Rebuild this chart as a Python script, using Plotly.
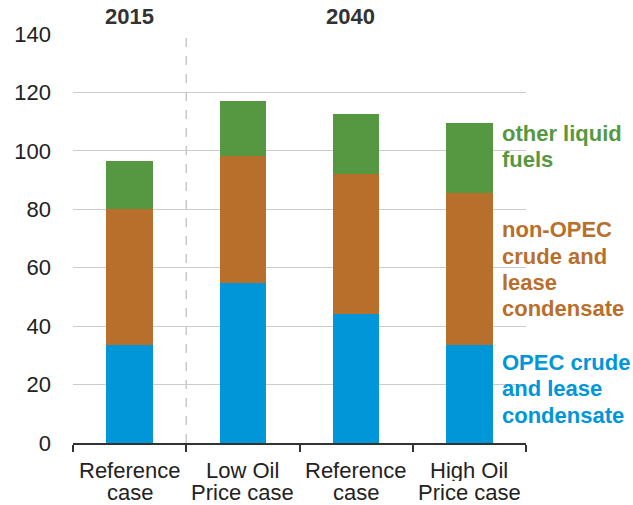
import plotly.graph_objects as go

categories = ["Reference case", "Low Oil Price case", "Reference case", "High Oil Price case"]
cat_line1 = ["Reference", "Low Oil", "Reference", "High Oil"]
cat_line2 = ["case", "Price case", "case", "Price case"]
opec = [33.7, 54.6, 44.1, 33.4]
non_opec = [46.5, 43.6, 48.1, 52.3]
other_liquids = [16.4, 18.9, 20.5, 24.0]
years = ["2015", "2040"]
year_pos = [0, 1.95]
series_names = ["OPEC crude and lease condensate", "non-OPEC crude and lease condensate", "other liquid fuels"]

BLUE = "#0096d7"
ORANGE = "#b96f2c"
GREEN = "#569842"
FONT = "Liberation Sans, Arial, sans-serif"

x = list(range(len(categories)))

fig = go.Figure()
for vals, col, name in [(opec, BLUE, series_names[0]), (non_opec, ORANGE, series_names[1]), (other_liquids, GREEN, series_names[2])]:
    fig.add_trace(go.Bar(x=x, y=vals, name=name, marker=dict(color=col, line=dict(width=0)), width=0.41))

PLOT_TOP = 34.3
PLOT_BOT = 442.7
H = PLOT_BOT - PLOT_TOP

def py(pix):
    return (PLOT_BOT - pix) / H

ann = []
# category labels
for i in x:
    ann.append(dict(x=i, y=py(478 - 8), xref="x", yref="paper", text=cat_line1[i], showarrow=False,
                    height=21, font=dict(size=22, color="#222", family=FONT), xanchor="center", yanchor="middle"))
    ann.append(dict(x=i, y=py(500 - 8), xref="x", yref="paper", text=cat_line2[i], showarrow=False,
                    height=21, font=dict(size=22, color="#222", family=FONT), xanchor="center", yanchor="middle"))
# year labels
for yr, xp in zip(years, year_pos):
    ann.append(dict(x=xp, y=py(25 - 8), xref="x", yref="paper", text="<b>%s</b>" % yr, showarrow=False,
                    font=dict(size=22, color="#333", family=FONT), xanchor="center", yanchor="middle"))
# series labels on right
labels = [
    (["other liquid", "fuels"], [141.7, 167.7], GREEN),
    (["non-OPEC", "crude and", "lease", "condensate"], [237.3, 264, 290.7, 316], ORANGE),
    (["OPEC crude", "and lease", "condensate"], [370, 396.7, 423], BLUE),
]
for lines, bases, col in labels:
    for t, b in zip(lines, bases):
        ann.append(dict(x=1.0, y=py(b - 8), xref="paper", yref="paper", xshift=-26, text="<b>%s</b>" % t,
                        showarrow=False, height=25, font=dict(size=22, color=col, family=FONT),
                        xanchor="left", yanchor="middle"))

fig.update_layout(
    barmode="stack",
    width=633, height=505,
    margin=dict(l=73, r=107, t=34, b=62),
    paper_bgcolor="white", plot_bgcolor="white",
    showlegend=False,
    annotations=ann,
    shapes=[dict(type="line", xref="x", yref="paper", x0=0.5, x1=0.5, y0=0, y1=1,
                 line=dict(color="#c8c8c8", width=1.5, dash="dash"), layer="below")],
    xaxis=dict(range=[-0.5, 3.5], tickvals=[-0.5, 0.5, 1.5, 2.5, 3.5], ticks="outside", ticklen=7,
               tickcolor="#333", tickwidth=1.5, showticklabels=False, showgrid=False, zeroline=False,
               showline=True, linecolor="#333", linewidth=1.5),
    yaxis=dict(range=[0, 140], dtick=20, showgrid=True, gridcolor="#cccccc", gridwidth=1, zeroline=False,
               showline=False, ticks="", ticklabelstandoff=21,
               tickfont=dict(size=22, color="#222", family=FONT)),
)

fig.write_html("out.html", config={"displayModeBar": False},
               post_script="document.body.style.margin='0';document.body.style.overflow='hidden';")
